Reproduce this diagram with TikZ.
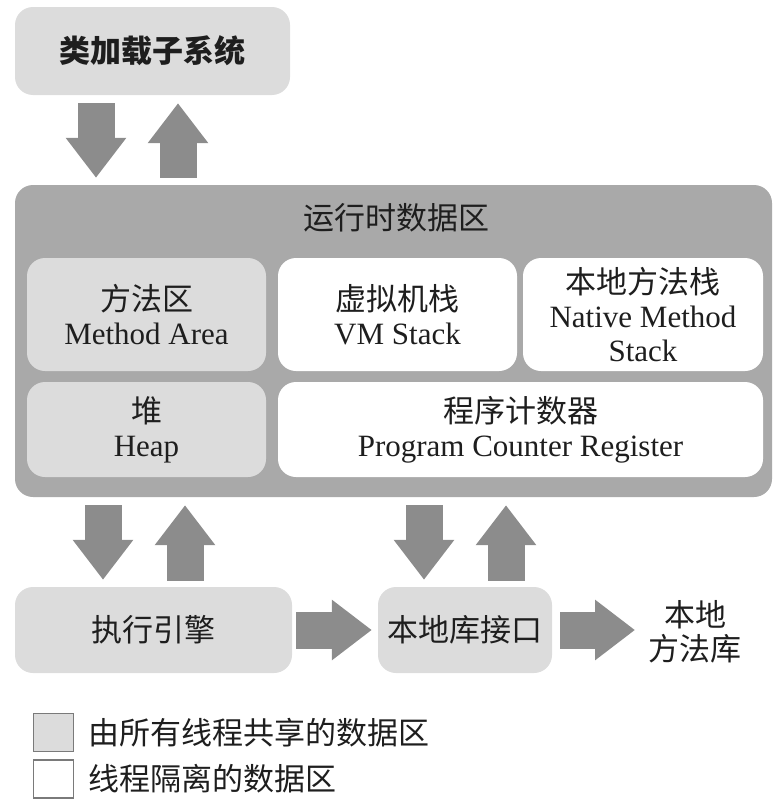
\documentclass[tikz,border=0pt]{standalone}
\usepackage{fontspec}
\setmainfont{Liberation Serif}
\newfontfamily\cjk{Noto Sans CJK SC}
\usetikzlibrary{arrows.meta}
\definecolor{outergray}{HTML}{A9A9A9}
\definecolor{sharedgray}{HTML}{DCDCDC}
\definecolor{arrowgray}{HTML}{8C8C8C}
\definecolor{txt}{HTML}{1E1E1E}
\definecolor{legendline}{HTML}{7A7A7A}
\newcommand\zh[1]{{\cjk\fontsize{31}{34}\selectfont #1}}
\begin{document}
\begin{tikzpicture}[x=1pt,y=-1pt,
  base/.style={rounded corners=18pt, inner sep=0pt, align=center, text=txt,
    font=\fontsize{31}{34}\selectfont},
  shared/.style={base, fill=sharedgray},
  private/.style={base, fill=white},
  fat/.style={draw=arrowgray, line width=37pt, -{Triangle[width=58pt,length=40pt]}},
  legendbox/.style={draw=legendline, line width=1.5pt, minimum width=40pt, minimum height=38pt, inner sep=0pt},
  legendtext/.style={anchor=west, inner sep=0pt, text=txt}]
\useasboundingbox (0,0) rectangle (781,803);

% class loader
\node[shared, minimum width=275pt, minimum height=88pt] (cl) at (152.5,51) {\zh{\bfseries 类加载子系统}};

% runtime data area
\node[base, fill=outergray, minimum width=757pt, minimum height=312pt] (rt) at (393.5,341) {};
\node[base] (rtt) at (396,218) {\zh{运行时数据区}};
\node[shared, minimum width=239pt, minimum height=113pt] (ma) at (146.5,314.5) {\zh{方法区}\\Method Area};
\node[private, minimum width=239pt, minimum height=113pt] (vm) at (397.5,314.5) {\zh{虚拟机栈}\\VM Stack};
\node[private, minimum width=240pt, minimum height=113pt] (nm) at (643,314.5) {\zh{本地方法栈}\\Native Method\\Stack};
\node[shared, minimum width=239pt, minimum height=95pt] (hp) at (146.5,429.5) {\zh{堆}\\Heap};
\node[private, minimum width=485pt, minimum height=95pt] (pc) at (520.5,429.5) {\zh{程序计数器}\\Program Counter Register};

% bottom row
\node[shared, minimum width=277pt, minimum height=86pt] (ee) at (153.5,630) {\zh{执行引擎}};
\node[shared, minimum width=174pt, minimum height=86pt] (nl) at (465,630) {\zh{本地库接口}};
\node[base] (lib) at (695,632) {\zh{本地}\\\zh{方法库}};

% arrows
\coordinate (a1) at (96,0);
\coordinate (a2) at (178,0);
\coordinate (b1) at (103,0);
\coordinate (b2) at (185,0);
\coordinate (b3) at (424,0);
\coordinate (b4) at (506,0);
\coordinate (tipx) at (635,0);
\draw[fat, shorten <=8pt, shorten >=7pt] (a1 |- cl.south) -- (a1 |- rt.north);
\draw[fat, shorten <=7pt, shorten >=8pt] (a2 |- rt.north) -- (a2 |- cl.south);
\draw[fat, shorten <=8pt, shorten >=7pt] (b1 |- rt.south) -- (b1 |- ee.north);
\draw[fat, shorten <=6pt, shorten >=8pt] (b2 |- ee.north) -- (b2 |- rt.south);
\draw[fat, shorten <=8pt, shorten >=7pt] (b3 |- rt.south) -- (b3 |- nl.north);
\draw[fat, shorten <=6pt, shorten >=8pt] (b4 |- nl.north) -- (b4 |- rt.south);
\draw[fat, shorten <=4pt, shorten >=6pt] (ee.east) -- (nl.west);
\draw[fat, shorten <=8pt] (nl.east) -- (tipx |- nl.east);

% legend
\node[legendbox, fill=sharedgray] (lg1) at (53.5,732.5) {};
\node[legendbox, fill=white] (lg2) at (53.5,779) {};
\node[legendtext] (lt1) at (88,733) {\zh{由所有线程共享的数据区}};
\node[legendtext] (lt2) at (88,779) {\zh{线程隔离的数据区}};
\end{tikzpicture}
\end{document}
